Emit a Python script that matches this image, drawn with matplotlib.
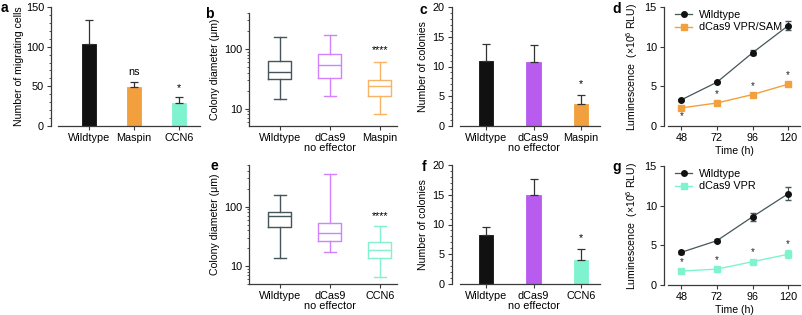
import matplotlib
matplotlib.use("Agg")
import matplotlib.pyplot as plt
from matplotlib.lines import Line2D
import numpy as np

plt.rcParams["font.family"] = ["Liberation Sans", "DejaVu Sans"]
plt.rcParams["mathtext.fontset"] = "custom"
plt.rcParams["mathtext.rm"] = "Liberation Sans"
plt.rcParams["mathtext.default"] = "regular"
plt.rcParams["font.size"] = 7.5

# ---- data ----
a_groups = ["Wildtype", "Maspin", "CCN6"]
a_vals = [103, 49, 29]
a_err = [31, 7, 7]
a_sig = ["", "ns", "*"]

b_groups = ["Wildtype", "dCas9\nno effector", "Maspin"]
b_whishi = [160, 168, 60]
b_q3 = [62, 83, 30.5]
b_med = [41, 54, 23.5]
b_q1 = [31, 32, 16.5]
b_whislo = [14.7, 16.4, 8.0]

c_groups = ["Wildtype", "dCas9\nno effector", "Maspin"]
c_vals = [11.0, 10.7, 3.65]
c_err = [2.8, 2.95, 1.55]

time_h = [48, 72, 96, 120]
d_wt = [3.3, 5.52, 9.23, 12.64]
d_wt_err = [0.15, 0.15, 0.3, 0.6]
d_sam = [2.28, 2.9, 3.96, 5.27]
d_sam_err = [0.12, 0.12, 0.15, 0.2]
d_star = [1.2, 4.0, 5.05, 6.4]

e_groups = ["Wildtype", "dCas9\nno effector", "CCN6"]
e_whishi = [155, 350, 46.5]
e_q3 = [82, 52.5, 25.8]
e_med = [70, 36, 18.6]
e_q1 = [46, 26.4, 13.8]
e_whislo = [13.8, 17.2, 6.6]

f_groups = ["Wildtype", "dCas9\nno effector", "CCN6"]
f_vals = [8.3, 15.0, 4.0]
f_err = [1.25, 2.65, 1.8]

g_wt = [4.12, 5.59, 8.6, 11.5]
g_wt_err = [0.2, 0.2, 0.5, 0.8]
g_vpr = [1.76, 2.0, 2.94, 3.87]
g_vpr_err = [0.15, 0.15, 0.2, 0.5]
g_star = [2.85, 3.15, 4.1, 5.2]

# ---- colours ----
BLACK = "#111111"
ORANGE = "#f2a03e"
PURPLE = "#b85cf0"
MINT = "#7ff3d0"
SLATE = "#45555a"
LILAC = "#d182ff"
ORANGE_L = "#f7b466"
MINT_L = "#86efcf"
AXC = "#3a3a3a"

W, H = 803, 315
fig = plt.figure(figsize=(W / 100, H / 100), dpi=100)


def px_axes(x0, y0, x1, y1):
    return fig.add_axes([x0 / W, 1 - y1 / H, (x1 - x0) / W, (y1 - y0) / H])


def style(ax, offset=0):
    for s in ["top", "right"]:
        ax.spines[s].set_visible(False)
    for s in ["left", "bottom"]:
        ax.spines[s].set_color(AXC)
        ax.spines[s].set_linewidth(0.9)
    ax.spines["left"].set_position(("outward", offset))
    ax.tick_params(which="major", direction="out", length=3, width=0.8,
                   color=AXC, labelsize=7.8, pad=2)
    ax.tick_params(which="minor", direction="out", length=1.6, width=0.6, color=AXC)


def bar_panel(ax, groups, vals, errs, colors, ylim, ystep, minor, ylabel, xlim, offset, lpad=3):
    x = np.arange(len(groups))
    ax.bar(x, vals, width=0.3, color=colors, edgecolor=colors, linewidth=0.6, zorder=2)
    ax.errorbar(x, vals, yerr=[np.zeros(len(vals)), errs], fmt="none",
                ecolor="#333333", elinewidth=0.9, capsize=3, capthick=0.9, zorder=3)
    ax.set_xticks(x)
    ax.set_xticklabels(groups, linespacing=1.0)
    ax.set_xlim(*xlim)
    ax.set_ylim(*ylim)
    ax.set_yticks(np.arange(ylim[0], ylim[1] + 0.01, ystep))
    ax.set_yticks(np.arange(ylim[0], ylim[1] + 0.01, minor), minor=True)
    ax.set_ylabel(ylabel, fontsize=7.6, labelpad=lpad)
    style(ax, offset)


def box_panel(ax, groups, lo, q1, med, q3, hi, colors, ylim, ylabel):
    stats = []
    for i in range(len(groups)):
        stats.append(dict(whislo=lo[i], q1=q1[i], med=med[i], q3=q3[i], whishi=hi[i]))
    x = np.arange(len(groups))
    bp = ax.bxp(stats, positions=x, widths=0.46, showfliers=False, patch_artist=False,
                manage_ticks=False)
    for i, c in enumerate(colors):
        for k in ["boxes", "medians"]:
            bp[k][i].set_color(c)
            bp[k][i].set_linewidth(1.0)
        for k in ["whiskers", "caps"]:
            for j in (2 * i, 2 * i + 1):
                bp[k][j].set_color(c)
                bp[k][j].set_linewidth(1.0)
    ax.set_yscale("log")
    ax.set_ylim(*ylim)
    ax.set_xlim(-0.62, 2.34)
    ax.set_xticks(x)
    ax.set_xticklabels(groups, linespacing=1.0)
    ax.set_yticks([10, 100])
    ax.set_yticklabels(["10", "100"])
    ax.yaxis.set_minor_locator(matplotlib.ticker.LogLocator(base=10, subs=np.arange(2, 10)))
    ax.yaxis.set_minor_formatter(matplotlib.ticker.NullFormatter())
    ax.set_ylabel(ylabel, fontsize=7.6, labelpad=3)
    style(ax, 0)


def line_panel(ax, wt, wt_err, other, other_err, ocolor, olabel, stars):
    ax.errorbar(time_h, wt, yerr=wt_err, color=SLATE, lw=0.9, marker="o", ms=4,
                mfc=BLACK, mec=BLACK, ecolor=SLATE, elinewidth=0.8, capsize=2, zorder=3)
    ax.errorbar(time_h, other, yerr=other_err, color=ocolor, lw=1.0, marker="s", ms=4,
                mfc=ocolor, mec=ocolor, ecolor=ocolor, elinewidth=0.8, capsize=2, zorder=3)
    for t, s in zip(time_h, stars):
        ax.text(t, s, "*", ha="center", va="center", fontsize=7, color="#222222")
    ax.set_xlim(39, 128)
    ax.set_ylim(0, 15)
    ax.set_xticks(time_h)
    ax.set_yticks([0, 5, 10, 15])
    ax.set_xlabel("Time (h)", fontsize=7.6, labelpad=2)
    ax.set_ylabel("Luminescence  (×10$^6$ RLU)", fontsize=7.6, labelpad=3)
    handles = [
        Line2D([], [], color=SLATE, lw=0.9, marker="o", ms=4, mfc=BLACK, mec=BLACK),
        Line2D([], [], color=ocolor, lw=1.0, marker="s", ms=4, mfc=ocolor, mec=ocolor),
    ]
    ax.legend(handles, ["Wildtype", olabel], loc="upper left",
              bbox_to_anchor=(-0.02, 1.06), frameon=False, fontsize=7.8,
              handlelength=1.6, labelspacing=0.25, handletextpad=0.6)
    style(ax, 3)


# panel a
ax_a = px_axes(58, 7, 200, 126)
bar_panel(ax_a, a_groups, a_vals, a_err, [BLACK, ORANGE, MINT], (0, 150), 50, 10,
          "Number of migrating cells", (-0.69, 2.47), 5, lpad=1)
for i, s in enumerate(a_sig):
    ax_a.text(i, a_vals[i] + a_err[i] + 6, s, ha="center", va="bottom", fontsize=7.8)

# panel b
ax_b = px_axes(249, 13, 397, 126)
box_panel(ax_b, b_groups, b_whislo, b_q1, b_med, b_q3, b_whishi,
          [SLATE, LILAC, ORANGE_L], (5.1, 400), "Colony diameter (μm)")
ax_b.text(2, 80, "****", ha="center", va="bottom", fontsize=7.8)

# panel c
ax_c = px_axes(460, 7, 600, 126)
bar_panel(ax_c, c_groups, c_vals, c_err, [BLACK, PURPLE, ORANGE], (0, 20), 5, 1,
          "Number of colonies", (-0.55, 2.4), 6)
ax_c.text(2, 6.2, "*", ha="center", va="bottom", fontsize=7.8)

# panel d
ax_d = px_axes(668, 7, 800, 126)
line_panel(ax_d, d_wt, d_wt_err, d_sam, d_sam_err, ORANGE, "dCas9 VPR/SAM", d_star)

# panel e
ax_e = px_axes(249, 165, 397, 284)
box_panel(ax_e, e_groups, e_whislo, e_q1, e_med, e_q3, e_whishi,
          [SLATE, LILAC, MINT_L], (5, 500), "Colony diameter (μm)")
ax_e.text(2, 58, "****", ha="center", va="bottom", fontsize=7.8)

# panel f
ax_f = px_axes(460, 165, 600, 284)
bar_panel(ax_f, f_groups, f_vals, f_err, [BLACK, PURPLE, MINT], (0, 20), 5, 1,
          "Number of colonies", (-0.55, 2.4), 6)
ax_f.text(2, 6.8, "*", ha="center", va="bottom", fontsize=7.8)

# panel g
ax_g = px_axes(668, 166, 800, 285)
line_panel(ax_g, g_wt, g_wt_err, g_vpr, g_vpr_err, MINT, "dCas9 VPR", g_star)

# panel letters
for lab, (x, y) in {"a": (1, 1), "b": (205, 7), "c": (420, 3), "d": (612, 2),
                    "e": (211, 159), "f": (422, 160), "g": (612, 160)}.items():
    fig.text(x / W, 1 - y / H, lab, fontsize=10, fontweight="bold", ha="left", va="top")

fig.savefig("out.png", dpi=100)
